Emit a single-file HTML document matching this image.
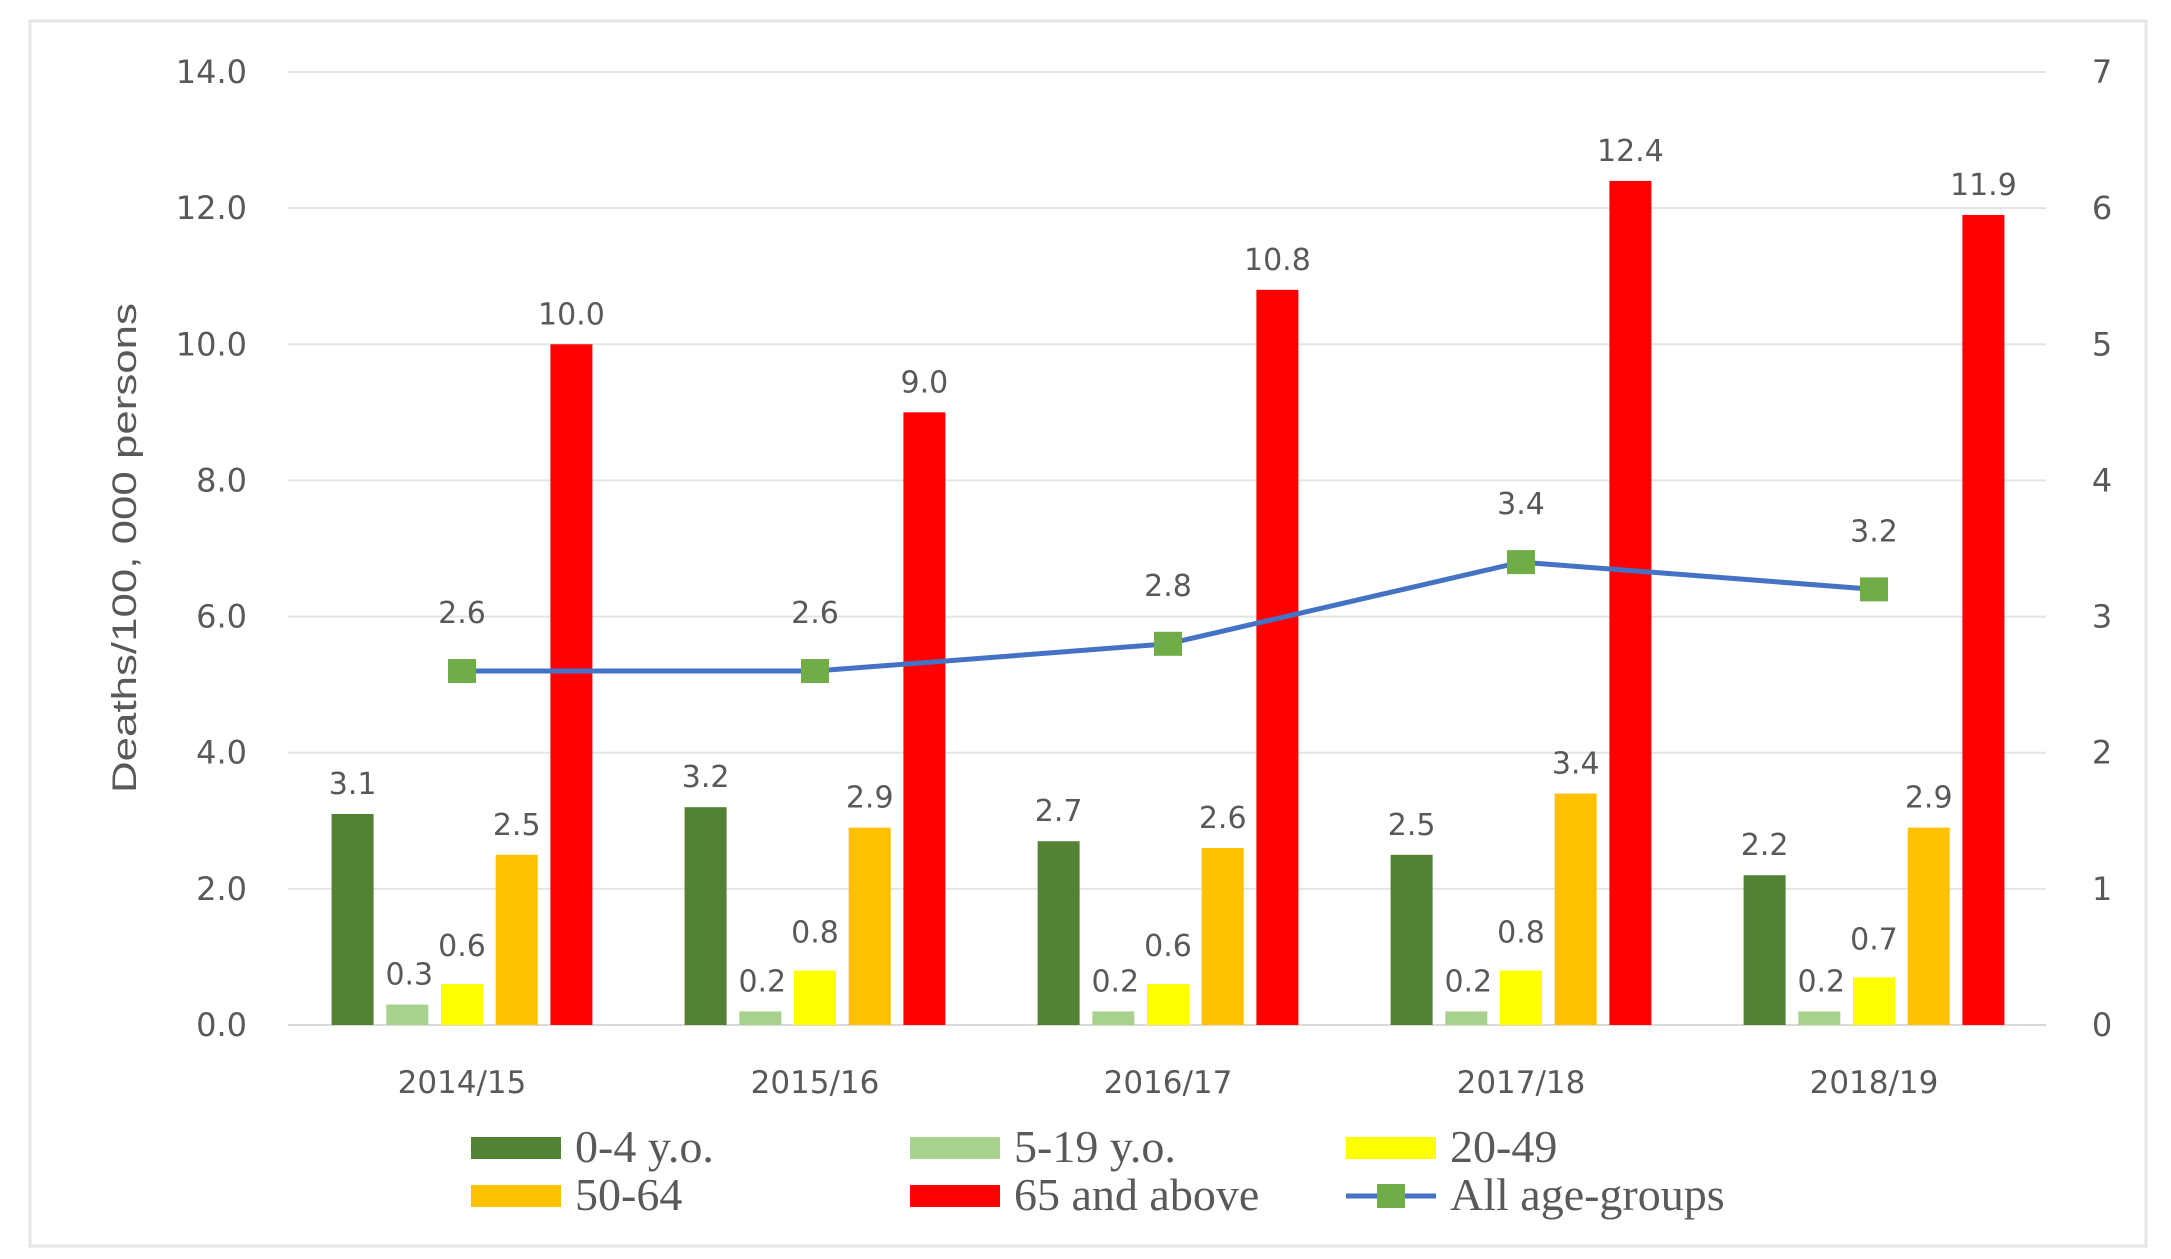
<!DOCTYPE html>
<html><head><meta charset="utf-8"><style>
html,body{margin:0;padding:0;background:#fff;}
svg{display:block;}
</style></head><body>
<svg id="chart" width="2171" height="1259" xmlns="http://www.w3.org/2000/svg">
<rect x="30" y="21" width="2116" height="1225" fill="#fff" stroke="#e6e6e6" stroke-width="3"/>
<g id="grid"></g><g id="bars"></g><g id="line"></g><g id="labels"></g>
<text x="136" y="548" transform="rotate(-90 136 548)" text-anchor="middle" font-family="Liberation Sans, sans-serif" font-size="34" textLength="490" lengthAdjust="spacingAndGlyphs" fill="#595959">Deaths/100, 000 persons</text>
<g id="legend" font-family="Liberation Serif, serif" font-size="46" fill="#595959"></g>
</svg>
<script>
const categories = ["2014/15","2015/16","2016/17","2017/18","2018/19"];
const seriesNames = ["0-4 y.o.","5-19 y.o.","20-49","50-64","65 and above"];
const s0 = [3.1,3.2,2.7,2.5,2.2];
const s1 = [0.3,0.2,0.2,0.2,0.2];
const s2 = [0.6,0.8,0.6,0.8,0.7];
const s3 = [2.5,2.9,2.6,3.4,2.9];
const s4 = [10.0,9.0,10.8,12.4,11.9];
const allAges = [2.6,2.6,2.8,3.4,3.2];
const leftTicks = [0,2,4,6,8,10,12,14];
const rightTicks = [0,1,2,3,4,5,6,7];
const colors = ["#548235","#a9d18e","#ffff00","#ffc000","#ff0000"];
const NS="http://www.w3.org/2000/svg";
const y0=1025, y14=72, left=288, right=2046;
const yL=v=>y0-(v/14)*(y0-y14);
const yR=v=>y0-(v/7)*(y0-y14);
const xC=i=>462+i*353;
function mk(tag,attrs,parent,text){const e=document.createElementNS(NS,tag);for(const k in attrs)e.setAttribute(k,attrs[k]);if(text!==undefined)e.textContent=text;document.getElementById(parent).appendChild(e);return e;}
const font={"font-family":"DejaVu Sans, sans-serif","font-size":"32",fill:"#595959"};
leftTicks.forEach(t=>{
  const g=mk('line',{x1:left,x2:right,y1:yL(t),y2:yL(t),stroke:t===0?'#d9d9d9':'#e4e4e4','stroke-width':2},'grid');
  
  
  const l=mk('text',Object.assign({x:247,y:yL(t)+11,'text-anchor':'end'},font),'grid',t.toFixed(1));
  
  
});
rightTicks.forEach(t=>{
  const l=mk('text',Object.assign({x:2102,y:yR(t)+11,'text-anchor':'middle'},font),'grid',String(t));
  
  
});
const series=[s0,s1,s2,s3,s4];
categories.forEach((c,i)=>{
  const cl=mk('text',Object.assign({x:xC(i),y:1093,'text-anchor':'middle'},font,{'font-size':'31'}),'labels',c);
  
  
  series.forEach((s,k)=>{
    const cx=xC(i)+(k-2)*54.7;
    const r=mk('rect',{x:cx-21,y:yL(s[i]),width:42,height:y0-yL(s[i]),fill:colors[k]},'bars');
    
    
    let lx=cx, ly=yL(s[i])-20;
    if(k===1){lx=cx+2;}
    if(k===2){ly-=8;}
    const t=mk('text',Object.assign({x:lx,y:ly,'text-anchor':'middle'},font,{'font-size':'30'}),'labels',s[i].toFixed(1));
    
    
  });
});
const pts=allAges.map((v,i)=>[xC(i),yR(v)]);
const pl=mk('polyline',{points:pts.map(p=>p.join(',')).join(' '),fill:'none',stroke:'#4472c4','stroke-width':5},'line');


pts.forEach((p,i)=>{
  const m=mk('rect',{x:p[0]-14,y:p[1]-12,width:28,height:24,fill:'#70ad47'},'line');
  
  
  const t=mk('text',Object.assign({x:p[0],y:p[1]-48,'text-anchor':'middle'},font,{'font-size':'30'}),'labels',allAges[i].toFixed(1));
  
  
});
const legPos=[[471,1148],[910,1148],[1346,1148],[471,1196],[910,1196]];
seriesNames.forEach((n,k)=>{
  const [x,y]=legPos[k];
  const r=mk('rect',{x:x,y:y-11,width:90,height:22,fill:colors[k]},'legend');
  
  
  const t=mk('text',{x:x+104,y:y+14},'legend',n);
  
  
});
const ll=mk('line',{x1:1346,x2:1436,y1:1196,y2:1196,stroke:'#4472c4','stroke-width':5},'legend');


const lm=mk('rect',{x:1377,y:1184,width:28,height:24,fill:'#70ad47'},'legend');


const lt=mk('text',{x:1450,y:1210},'legend','All age-groups');


</script>
</body></html>
